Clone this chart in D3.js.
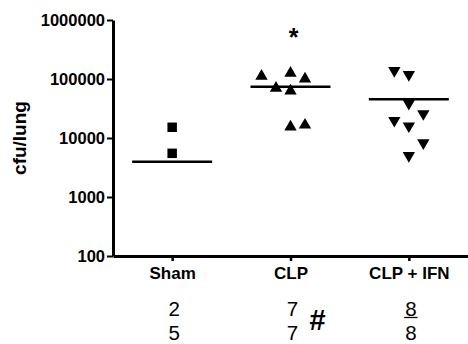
<!DOCTYPE html>
<html>
<head>
<meta charset="utf-8">
<script src="https://cdn.jsdelivr.net/npm/d3@7"></script>
<style>
  body { margin: 0; background: #fff; }
  svg { display: block; font-family: "Liberation Sans", Arial, sans-serif; }
</style>
</head>
<body>
<div id="chart"></div>
<script>

// chart data
var categories = ["Sham", "CLP", "CLP + IFN"];
var shamValues = [15200, 5500];
var clpValues = [112000, 126000, 100000, 70000, 62600, 15400, 16600];
var clpIfnValues = [139000, 119000, 38700, 25800, 19800, 16000, 8280, 5050];
// column of each point inside its group (scatter jitter)
var shamSlots = [0, 0];
var clpSlots = [-2, 0, 1, -1, 0, 0, 1];
var clpIfnSlots = [-1, 0, 0, 1, -1, 0, 1, 0];
var groupMedians = [3960, 74000, 45500];
var yTicks = [100, 1000, 10000, 100000, 1000000];
var countsTop = ["2", "7", "8"];
var countsBottom = ["5", "7", "8"];

var width = 468, height = 344;
var margin = { top: 20, right: 0, bottom: 88, left: 113 };

var svg = d3.select("#chart").append("svg")
	.attr("width", width)
	.attr("height", height);

var x = d3.scalePoint()
	.domain(categories)
	.range([margin.left, width])
	.padding(0.5);

var y = d3.scaleLog()
	.domain([100, 1000000])
	.range([height - margin.bottom, margin.top]);

var slotWidth = 14.5;

// y axis
var yAxis = svg.append("g")
	.attr("transform", "translate(" + margin.left + ",0)")
	.call(d3.axisLeft(y)
		.tickValues(yTicks)
		.tickFormat(d3.format("d"))
		.tickSize(6)
		.tickSizeOuter(0)
		.tickPadding(2));
yAxis.select(".domain").attr("stroke-width", 3);
yAxis.selectAll(".tick line").attr("stroke-width", 2);
yAxis.selectAll(".tick text")
	.attr("font-size", 16.5)
	.attr("font-weight", "bold")
	.attr("font-family", "Liberation Sans, Arial, sans-serif")
	.attr("fill", "#000");

// x axis
var xAxis = svg.append("g")
	.attr("transform", "translate(0," + (height - margin.bottom) + ")")
	.call(d3.axisBottom(x)
		.tickSize(5)
		.tickSizeOuter(0)
		.tickPadding(6));
xAxis.select(".domain").attr("stroke-width", 3);
xAxis.selectAll(".tick line").attr("stroke-width", 2.5);
xAxis.selectAll(".tick text")
	.attr("font-size", 17)
	.attr("font-weight", "bold")
	.attr("font-family", "Liberation Sans, Arial, sans-serif")
	.attr("fill", "#000");

// y label
svg.append("text")
	.attr("transform", "translate(26," + ((margin.top + height - margin.bottom) / 2 + 0) + ") rotate(-90)")
	.attr("text-anchor", "middle")
	.attr("font-size", 19)
	.attr("font-weight", "bold")
	.text("cfu/lung");

// group points
var groups = [
	{ cat: categories[0], values: shamValues, slots: shamSlots, shape: d3.symbolSquare, rot: 0 },
	{ cat: categories[1], values: clpValues, slots: clpSlots, shape: d3.symbolTriangle, rot: 0 },
	{ cat: categories[2], values: clpIfnValues, slots: clpIfnSlots, shape: d3.symbolTriangle, rot: 180 }
];

groups.forEach(function(g) {
	var pts = g.values.map(function(v, i) { return { v: v, s: g.slots[i] }; });
	svg.append("g").selectAll("path")
		.data(pts)
		.enter().append("path")
		.attr("d", d3.symbol().type(g.shape).size(g.shape === d3.symbolSquare ? 90 : 66))
		.attr("fill", "#000")
		.attr("transform", function(d) {
			return "translate(" + (x(g.cat) + d.s * slotWidth) + "," + y(d.v) + ") rotate(" + g.rot + ")";
		});
});

// median lines
svg.append("g").selectAll("line")
	.data(groupMedians)
	.enter().append("line")
	.attr("x1", function(d, i) { return x(categories[i]) - 40; })
	.attr("x2", function(d, i) { return x(categories[i]) + 40; })
	.attr("y1", function(d) { return y(d); })
	.attr("y2", function(d) { return y(d); })
	.attr("stroke", "#000")
	.attr("stroke-width", 2.5);

// significance star
svg.append("text")
	.attr("x", x(categories[1]) + 3)
	.attr("y", 46)
	.attr("text-anchor", "middle")
	.attr("font-size", 25)
	.attr("font-weight", "bold")
	.text("*");

// counts below
svg.append("g").selectAll("text")
	.data(countsTop)
	.enter().append("text")
	.attr("x", function(d, i) { return x(categories[i]) + 2; })
	.attr("y", 316)
	.attr("text-anchor", "middle")
	.attr("font-size", 20.5)
	.text(function(d) { return d; });

svg.append("g").selectAll("text")
	.data(countsBottom)
	.enter().append("text")
	.attr("x", function(d, i) { return x(categories[i]) + 2; })
	.attr("y", 340)
	.attr("text-anchor", "middle")
	.attr("font-size", 20.5)
	.text(function(d) { return d; });

// underline under the last top count
var last = svg.selectAll("text").filter(function(d) { return d === countsTop[2]; }).node();
var bb = last.getBBox();
svg.append("line")
	.attr("x1", bb.x - 1).attr("x2", bb.x + bb.width + 1)
	.attr("y1", 317.5).attr("y2", 317.5)
	.attr("stroke", "#000")
	.attr("stroke-width", 1.3);

svg.append("text")
	.attr("x", x(categories[1]) + 27)
	.attr("y", 330)
	.attr("text-anchor", "middle")
	.attr("font-size", 29)
	.attr("font-weight", "bold")
	.text("#");

</script>
</body>
</html>
